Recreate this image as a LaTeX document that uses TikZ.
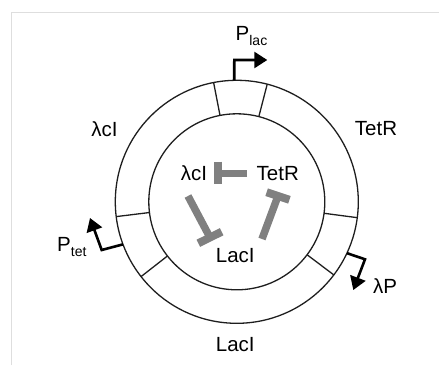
\documentclass[tikz,border=0pt]{standalone}
\usepackage{fontspec}
\setmainfont{Liberation Sans}
\usetikzlibrary{arrows.meta,calc}
\definecolor{repgray}{RGB}{128,128,128}
\definecolor{framegray}{RGB}{222,222,222}
\definecolor{ink}{RGB}{30,30,30}
\newcommand{\lowsub}[1]{\raisebox{-4.5pt}{\fontsize{14}{14}\selectfont #1}}
\begin{document}
\begin{tikzpicture}[x=1pt,y=1pt,
  ring/.style={draw=ink,line width=1.3pt},
  promoter/.style={draw=black,line width=2.6pt,line join=miter,
    -{Triangle[length=13pt,width=16pt]}},
  lbl/.style={font=\fontsize{20.5}{24}\selectfont,inner sep=0pt,anchor=base},
  lblw/.style={lbl,anchor=base west},
  repstem/.style={draw=repgray,line width=7.5pt,line cap=butt},
  rephead/.style={draw=repgray,line width=8pt,line cap=butt}]
\useasboundingbox (0,0) rectangle (439,365);
% page frame
\draw[framegray,line width=1.5pt] (11.7,0) -- (11.7,352.3) -- (439,352.3);

% plasmid ring
\coordinate (c) at (236.8,163.2);
\draw[ring] (c) circle[radius=121.5];
\draw[ring] (c) circle[radius=88];
\foreach \a in {101,75.5,-7.5,-37,187,218}
  \draw[ring] ($(c)+(\a:88)$) -- ($(c)+(\a:121.5)$);

% promoters
\coordinate (plac0) at ($(c)+(91.2:121.5)$);
\coordinate (plac1) at (234.3,305);
\coordinate (plac2) at (267.3,305);
\draw[promoter] (plac0) -- (plac1) -- (plac2);
\coordinate (ptet0) at ($(c)+(200.5:121.5)$);
\coordinate (ptet1) at (101.7,115);
\coordinate (ptet2) at (90,147);
\draw[promoter] (ptet0) -- (ptet1) -- (ptet2);
\coordinate (lp0) at ($(c)+(-25:121.5)$);
\coordinate (lp1) at (365,105.7);
\coordinate (lp2) at (353.3,75);
\draw[promoter] (lp0) -- (lp1) -- (lp2);

% promoter labels
\node[lblw] (tplac) at (235.5,324) {P\lowsub{lac}};
\node[lblw] (tptet) at (57,113.3) {P\lowsub{tet}};
\node[lblw] (tlp) at (373,71.7) {λP};

% gene labels on the ring
\node[lbl] (glam) at (104.5,229) {λcI};
\node[lbl] (gtet) at (376,229.3) {TetR};
\node[lbl] (glac) at (235.3,13.3) {LacI};

% repressor labels inside
\node[lbl] (rlam) at (194,185) {λcI};
\node[lbl] (rtet) at (277.8,185) {TetR};
\node[lbl] (rlac) at (235.3,102.7) {LacI};

% repression bars
\draw[repstem] (247,191.7) -- (218.3,191.7);
\draw[rephead] (218.3,203.3) -- (218.3,181);
\draw[repstem] (188,169) -- (210,127.5);
\draw[rephead] (198.3,121.7) -- (221.7,133.3);
\draw[repstem] (262,126) -- (278,169);
\draw[rephead] (266.6,172.8) -- (289.4,165.2);
\end{tikzpicture}
\end{document}
